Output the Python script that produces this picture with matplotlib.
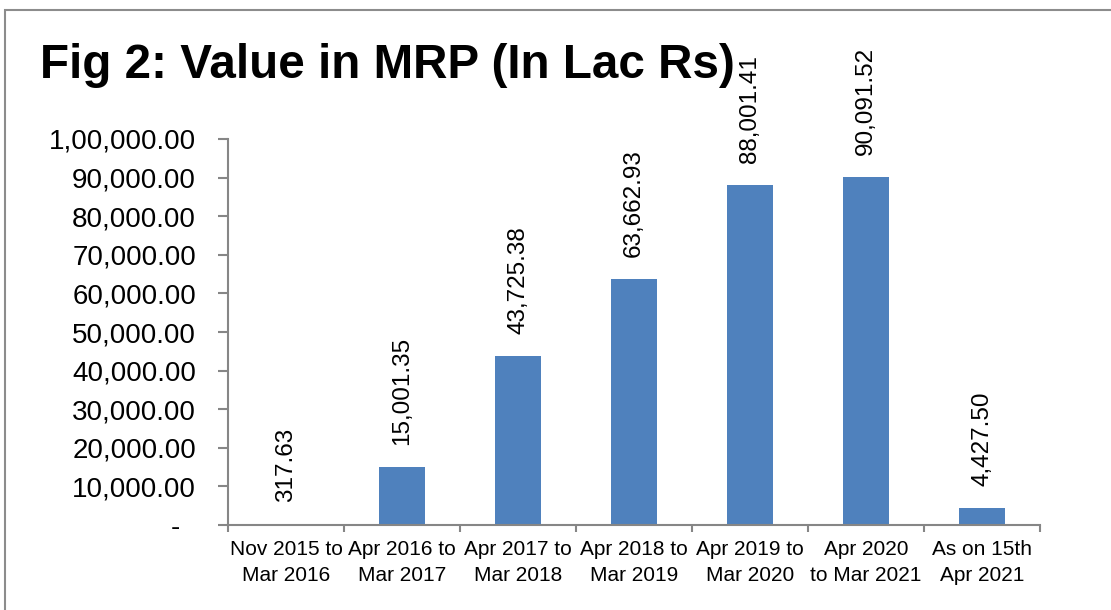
import matplotlib.pyplot as plt
import matplotlib
from matplotlib.patches import Rectangle

matplotlib.rcParams['font.family'] = ['Liberation Sans', 'DejaVu Sans']

categories = ['Nov 2015 to\nMar 2016', 'Apr 2016 to\nMar 2017', 'Apr 2017 to\nMar 2018',
              'Apr 2018 to\nMar 2019', 'Apr 2019 to\nMar 2020', 'Apr 2020\nto Mar 2021',
              'As on 15th\nApr 2021']
values = [317.63, 15001.35, 43725.38, 63662.93, 88001.41, 90091.52, 4427.50]
yticks = [0, 10000, 20000, 30000, 40000, 50000, 60000, 70000, 80000, 90000, 100000]
ytick_labels = ['-  ', '10,000.00', '20,000.00', '30,000.00', '40,000.00', '50,000.00',
                '60,000.00', '70,000.00', '80,000.00', '90,000.00', '1,00,000.00']


def indian_fmt(v):
    whole, frac = f'{v:.2f}'.split('.')
    if len(whole) > 3:
        head, tail = whole[:-3], whole[-3:]
        parts = []
        while len(head) > 2:
            parts.insert(0, head[-2:])
            head = head[:-2]
        if head:
            parts.insert(0, head)
        whole = ','.join(parts + [tail])
    return whole + '.' + frac


fig = plt.figure(figsize=(11.11, 6.10), dpi=100)
fig.patches.append(Rectangle((5 / 1111, -0.1), 1.2, 600 / 610 + 0.1,
                             transform=fig.transFigure, fill=False,
                             edgecolor='#8c8c8c', linewidth=1.5))
ax = fig.add_axes([228 / 1111, 1 - 525 / 610, (1040 - 228) / 1111, (525 - 139) / 610])

x = range(len(values))
ax.bar(x, values, width=0.40, color='#4F81BD', zorder=2)
for i, v in enumerate(values):
    ax.annotate(indian_fmt(v), (i, v), xytext=(0, 16), textcoords='offset points',
                rotation=90, ha='center', va='bottom', fontsize=17.5)

ax.set_xlim(-0.5, len(values) - 0.5)
ax.set_ylim(0, 100000)
ax.set_yticks(yticks)
ax.set_yticklabels(ytick_labels, fontsize=20)
ax.set_xticks(x)
ax.set_xticklabels(categories, fontsize=15, linespacing=1.45)
ax.set_xticks([i - 0.5 for i in range(len(values) + 1)], minor=True)
ax.tick_params(axis='x', which='major', length=0, pad=11)
ax.tick_params(axis='x', which='minor', length=5, color='#868686', width=1.5)
ax.tick_params(axis='y', length=7, color='#868686', width=1.5, pad=16)

for s in ['top', 'right']:
    ax.spines[s].set_visible(False)
for s in ['left', 'bottom']:
    ax.spines[s].set_color('#868686')
    ax.spines[s].set_linewidth(1.5)

fig.text(40 / 1111, 1 - 65 / 610, 'Fig 2: Value in MRP (In Lac Rs)', fontsize=34.3,
         fontweight='bold', va='center', ha='left')

fig.savefig('out.png', dpi=100)
